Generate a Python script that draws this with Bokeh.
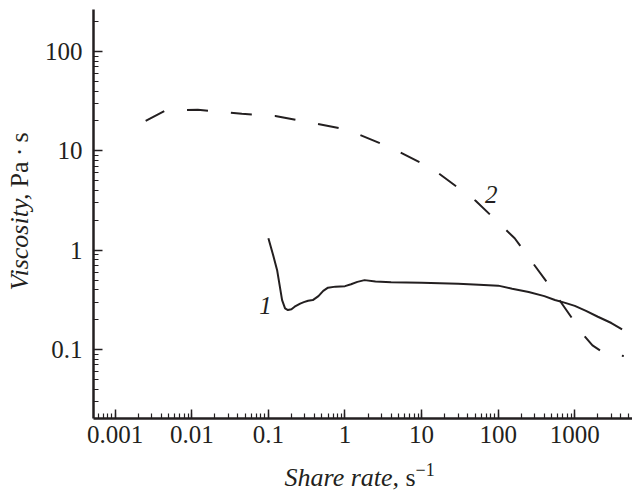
import math
from bokeh.plotting import figure
from bokeh.models import FixedTicker, CustomJSTickFormatter, Label, Range1d
from bokeh.core.properties import value
from bokeh.embed import file_html
from bokeh.resources import INLINE

# Curve 1 (solid)
rate_1 = [0.1, 0.115, 0.13, 0.151, 0.165, 0.18, 0.2, 0.22, 0.26, 0.29, 0.33, 0.38, 0.45,
          0.52, 0.6, 0.75, 1.0, 1.2, 1.45, 1.8, 2.5, 4.0, 10, 30, 56, 100, 152, 250, 400, 550,
          750, 1000, 1400, 2000, 3000, 4140]
visc_1 = [1.32, 0.9, 0.63, 0.315, 0.26, 0.25, 0.255, 0.27, 0.29, 0.30, 0.31, 0.315, 0.345,
          0.39, 0.42, 0.43, 0.435, 0.455, 0.48, 0.50, 0.485, 0.477, 0.47, 0.46, 0.45, 0.44, 0.41,
          0.38, 0.345, 0.315, 0.295, 0.275, 0.245, 0.214, 0.185, 0.16]

# Curve 2 (dashed)
rate_2 = [0.0025, 0.0046, 0.012, 0.045, 0.123, 0.385, 1.08, 3.95, 13.9, 50.7, 164, 432,
          1055, 1272, 1700, 2460, 4360]
visc_2 = [20, 25.6, 26, 23.6, 22.5, 19.1, 16.3, 10.8, 6.6, 3.15, 1.32, 0.477,
          0.178, 0.143, 0.11, 0.091, 0.086]

x_major = [0.001, 0.01, 0.1, 1, 10, 100, 1000]
y_major = [0.1, 1, 10, 100]

curve_names = ["1", "2"]
curve_label_x = [0.0914, 81]
curve_label_y = [0.28, 3.61]

# axis extents (data units)
x_axis_start, x_axis_end = 10 ** -3.283, 10 ** 3.753
y_axis_start, y_axis_end = 10 ** -1.694, 10 ** 2.423

ink = "#231f20"
serif = "Liberation Serif"

x_minor = [k * 10.0 ** n for n in range(-4, 4) for k in range(1, 10)]
x_minor = [t for t in x_minor if x_axis_start <= t <= x_axis_end]
y_minor = [k * 10.0 ** n for n in range(-2, 3) for k in range(1, 10)]
y_minor = [t for t in y_minor if y_axis_start <= t <= y_axis_end]

p = figure(width=632, height=492, x_axis_type="log", y_axis_type="log",
           x_range=Range1d(10 ** -4.497, x_axis_end),
           y_range=Range1d(10 ** -2.439, 10 ** 2.514),
           output_backend="svg", toolbar_location=None,
           min_border_left=0, min_border_right=0, min_border_top=0, min_border_bottom=0)
p.outline_line_color = None
p.grid.visible = False
p.background_fill_color = "white"
p.border_fill_color = "white"

fmt = CustomJSTickFormatter(code="return String(tick)")
p.xaxis[0].fixed_location = y_axis_start
p.xaxis[0].bounds = (x_axis_start, x_axis_end)
p.yaxis[0].fixed_location = x_axis_start
p.yaxis[0].bounds = (y_axis_start, y_axis_end)
for ax, maj, mnr, standoff in ((p.xaxis[0], x_major, x_minor, 8), (p.yaxis[0], y_major, y_minor, 11)):
    ax.ticker = FixedTicker(ticks=maj, minor_ticks=mnr)
    ax.formatter = fmt
    ax.axis_line_width = 2.5
    ax.axis_line_color = ink
    ax.major_tick_in = 9
    ax.major_tick_out = 0
    ax.minor_tick_in = 5
    ax.minor_tick_out = 0
    ax.major_tick_line_width = 1.5
    ax.minor_tick_line_width = 1.2
    ax.major_tick_line_color = ink
    ax.minor_tick_line_color = ink
    ax.major_label_text_font = serif
    ax.major_label_text_font_size = "25px"
    ax.major_label_text_color = ink
    ax.major_label_standoff = standoff

p.line(rate_1, visc_1, line_width=2, line_color=ink)
p.line(rate_2, visc_2, line_width=2, line_color=ink, line_dash="21 23")

p.text(curve_label_x, curve_label_y, text=curve_names, text_font=value(serif),
       text_font_style="italic", text_font_size="25px", text_color=ink,
       text_align="center", text_baseline="alphabetic")

def lab(x, y, t, style="normal", size="26px", angle=0.0):
    p.add_layout(Label(x=x, y=y, x_units="screen", y_units="screen", text=t,
                       text_font=serif, text_font_style=style, text_font_size=size,
                       text_color=ink, angle=angle, text_baseline="alphabetic",
                       text_align="left"))

# x axis label (screen coords from bottom-left of canvas)
lab(284, 15, "Share rate,", "italic")
lab(405, 15, "s")
lab(415, 23, "\u22121", size="18px")

# y axis label (rotated)
lab(19, 202, "Viscosity,", "italic", angle=math.pi / 2)
lab(19, 305, "Pa\u2009\u00b7\u2009s", angle=math.pi / 2)

open("out.html", "w").write(file_html(p, INLINE))
